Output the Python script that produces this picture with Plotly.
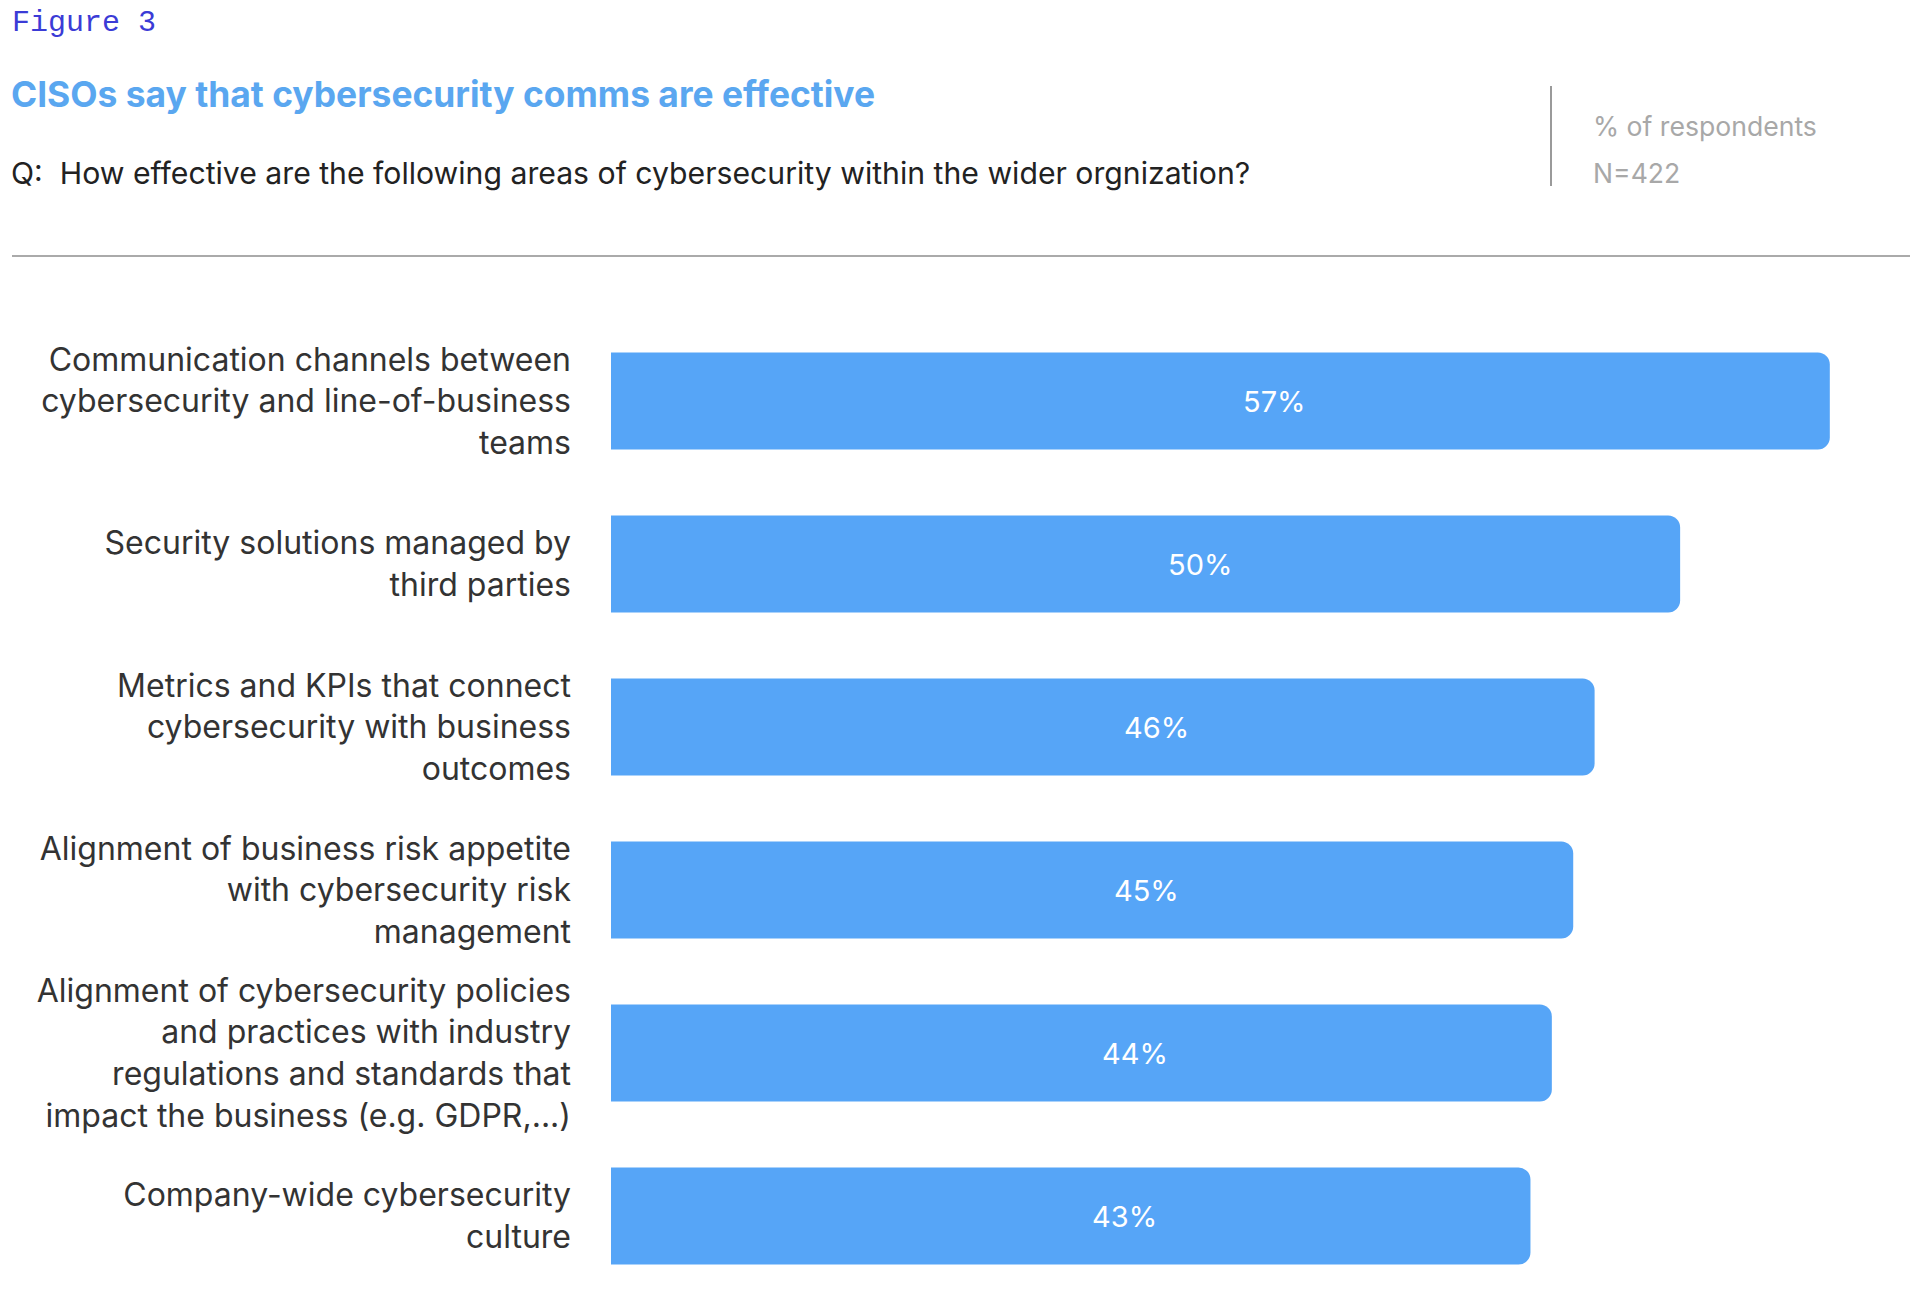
import plotly.graph_objects as go

categories = [
    "Communication channels between<br>cybersecurity and line-of-business<br>teams",
    "Security solutions managed by<br>third parties",
    "Metrics and KPIs that connect<br>cybersecurity with business<br>outcomes",
    "Alignment of business risk appetite<br>with cybersecurity risk<br>management",
    "Alignment of cybersecurity policies<br>and practices with industry<br>regulations and standards that<br>impact the business (e.g. GDPR,...)",
    "Company-wide cybersecurity<br>culture",
]
values = [57, 50, 46, 45, 44, 43]
value_labels = [f"{v}%" for v in values]

BAR = "#56A5F7"
TITLE_BLUE = "#5AA7F0"

fig = go.Figure()
fig.add_trace(go.Bar(
    y=categories, x=values, orientation="h",
    marker=dict(color=BAR, line=dict(width=0), cornerradius=12),
    width=0.595, hoverinfo="skip",
))

for c, v, t in zip(categories, values, value_labels):
    fig.add_annotation(x=v / 2, y=c, xref="x", yref="y", text=t, showarrow=False,
                       xshift=54, font=dict(family="Inter", size=29, color="white"))

fig.update_layout(
    width=1920, height=1294,
    margin=dict(l=611, r=10, t=300, b=0),
    paper_bgcolor="white", plot_bgcolor="white",
    showlegend=False,
    font=dict(family="Inter", color="#333333"),
    xaxis=dict(range=[0, 60.75], visible=False, fixedrange=True),
    yaxis=dict(
        categoryorder="array", categoryarray=categories,
        range=[5.478, -0.62], showgrid=False, zeroline=False, showline=False,
        ticks="", ticklabelstandoff=39,
        tickfont=dict(family="Inter", size=32, color="#333333"),
    ),
)

# Header texts
fig.add_annotation(xref="paper", yref="paper", x=0, y=1, xanchor="left", yanchor="middle",
                   text="Figure 3", showarrow=False,
                   font=dict(family="Liberation Mono", size=30, color="#3B3BD6"))
fig.add_annotation(text="<b>CISOs say that cybersecurity comms are effective</b>", showarrow=False,
                   xref="paper", yref="paper", x=0, y=1, xanchor="left", yanchor="middle",
                   font=dict(family="Inter", size=35.4, color=TITLE_BLUE))
fig.add_annotation(text="Q:  How effective are the following areas of cybersecurity within the wider orgnization?",
                   showarrow=False, xref="paper", yref="paper", x=0, y=1, xanchor="left", yanchor="middle",
                   font=dict(family="Inter", size=30.2, color="#222222"))
fig.add_annotation(text="% of respondents", showarrow=False, xref="paper", yref="paper",
                   x=0, y=1, xanchor="left", yanchor="middle",
                   font=dict(family="Inter", size=26.6, color="#A8A8A8"))
fig.add_annotation(text="N=422", showarrow=False, xref="paper", yref="paper",
                   x=0, y=1, xanchor="left", yanchor="middle",
                   font=dict(family="Inter", size=26.6, color="#A8A8A8"))

# Position header annotations in pixel terms
W, H = 1920, 1294
L, R, T, B = 611, 10, 300, 0
pw, ph = W - L - R, H - T - B
def px(x): return (x - L) / pw
def py(y): return (H - B - y) / ph
header_pos = [(10, 23), (9, 94), (9, 173), (1591, 126), (1591, 173)]
for ann, (xx, yy) in zip(fig.layout.annotations[len(values):], header_pos):
    ann.x = px(xx)
    ann.y = py(yy)

fig.add_shape(type="line", xref="paper", yref="paper", x0=px(1551), x1=px(1551), y0=py(86), y1=py(186),
              line=dict(color="#9A9A9A", width=2))
fig.add_shape(type="line", xref="paper", yref="paper", x0=px(12), x1=px(1910), y0=py(256), y1=py(256),
              line=dict(color="#AAAAAA", width=2))

fig.write_html("out.html")
